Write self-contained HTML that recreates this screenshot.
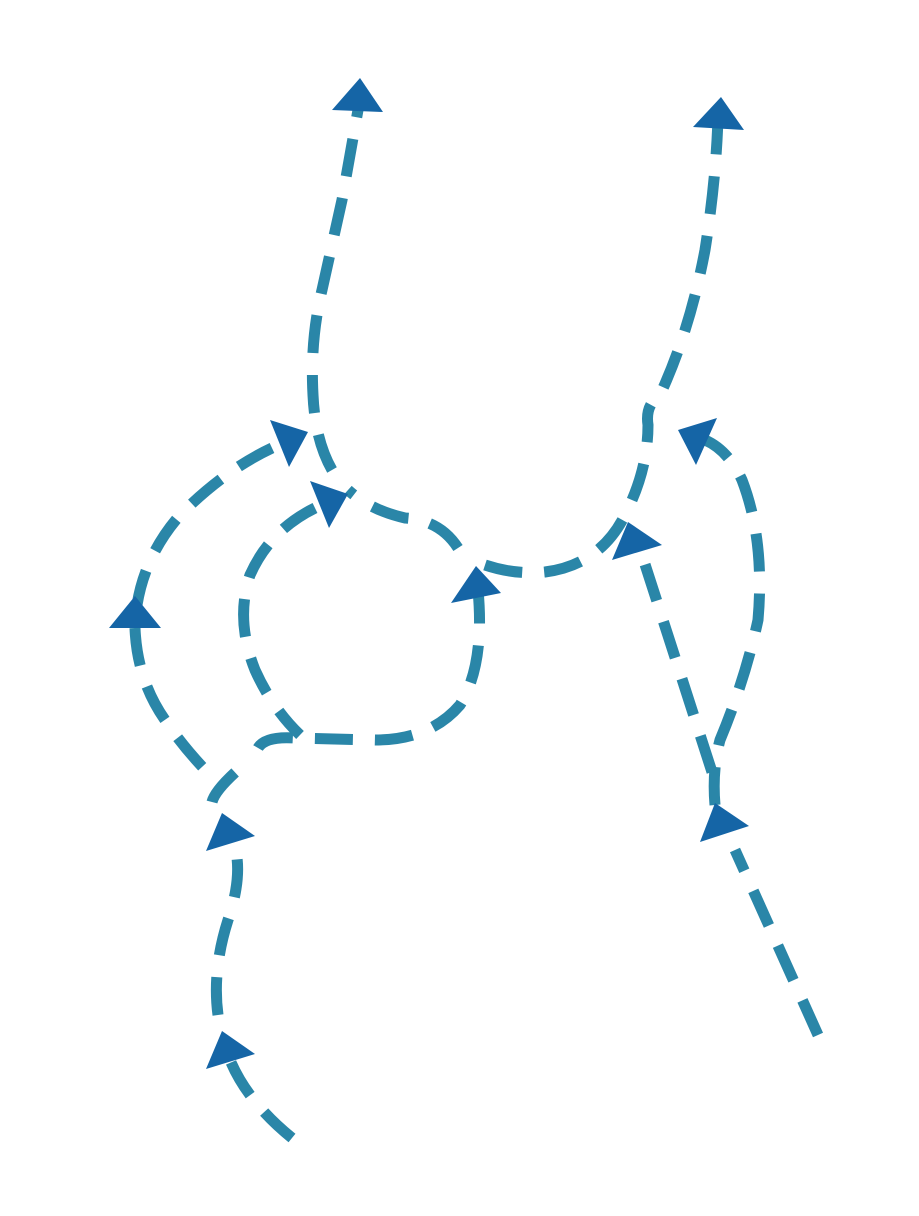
<!DOCTYPE html>
<html><head><meta charset="utf-8"><style>html,body{margin:0;padding:0;background:#fff}svg{display:block}</style></head>
<body>
<svg width="919" height="1216" viewBox="0 0 919 1216" xmlns="http://www.w3.org/2000/svg">
<g fill="none" stroke="#2a86a8" stroke-width="11" stroke-dasharray="38 22">
<path d="M292,1138 Q245,1100 228,1055"/>
<path d="M218,1015 Q212,970 228,920 Q245,870 232,838"/>
<path d="M212,802 Q215,790 240,768"/>
<path d="M258,748 Q265,736 295,738 L375,740 Q430,740 460,705 Q485,665 478,590"/>
<path d="M485,565 Q515,575 545,572 Q600,565 625,515 Q648,470 648,425 Q645,405 660,395 Q690,330 705,250 Q716,180 718,118"/>
<path d="M818,1035 L735,850"/>
<path d="M715,805 Q712,770 720,740 Q745,680 758,620 Q765,540 742,480 Q728,450 705,440"/>
<path d="M712,772 L642,555"/>
<path d="M458,548 Q440,520 405,518 Q370,510 348,490"/>
<path d="M315,508 Q270,530 250,575 Q235,620 255,670 Q272,708 300,735"/>
<path d="M332,470 Q315,440 313,395 Q310,340 322,290 L342,200 L358,110"/>
<path d="M272,448 Q225,470 180,515 Q145,555 137,605"/>
<path d="M135,628 Q137,680 165,720 Q185,750 215,780"/>
</g>
<g fill="#1565a6">
<polygon points="360,78 332,110 383,112"/>
<polygon points="721,97 693,127 744,130"/>
<polygon points="289,467 270,420 308,432"/>
<polygon points="329,528 310,481 348,494"/>
<polygon points="135,596 109,628 161,628"/>
<polygon points="476,566 451,603 501,593"/>
<polygon points="628,522 612,560 662,545"/>
<polygon points="678,430 717,418 696,465"/>
<polygon points="700,842 749,826 715,803"/>
<polygon points="206,851 255,836 222,813"/>
<polygon points="206,1069 255,1054 222,1031"/>
</g>
</svg>
</body></html>
